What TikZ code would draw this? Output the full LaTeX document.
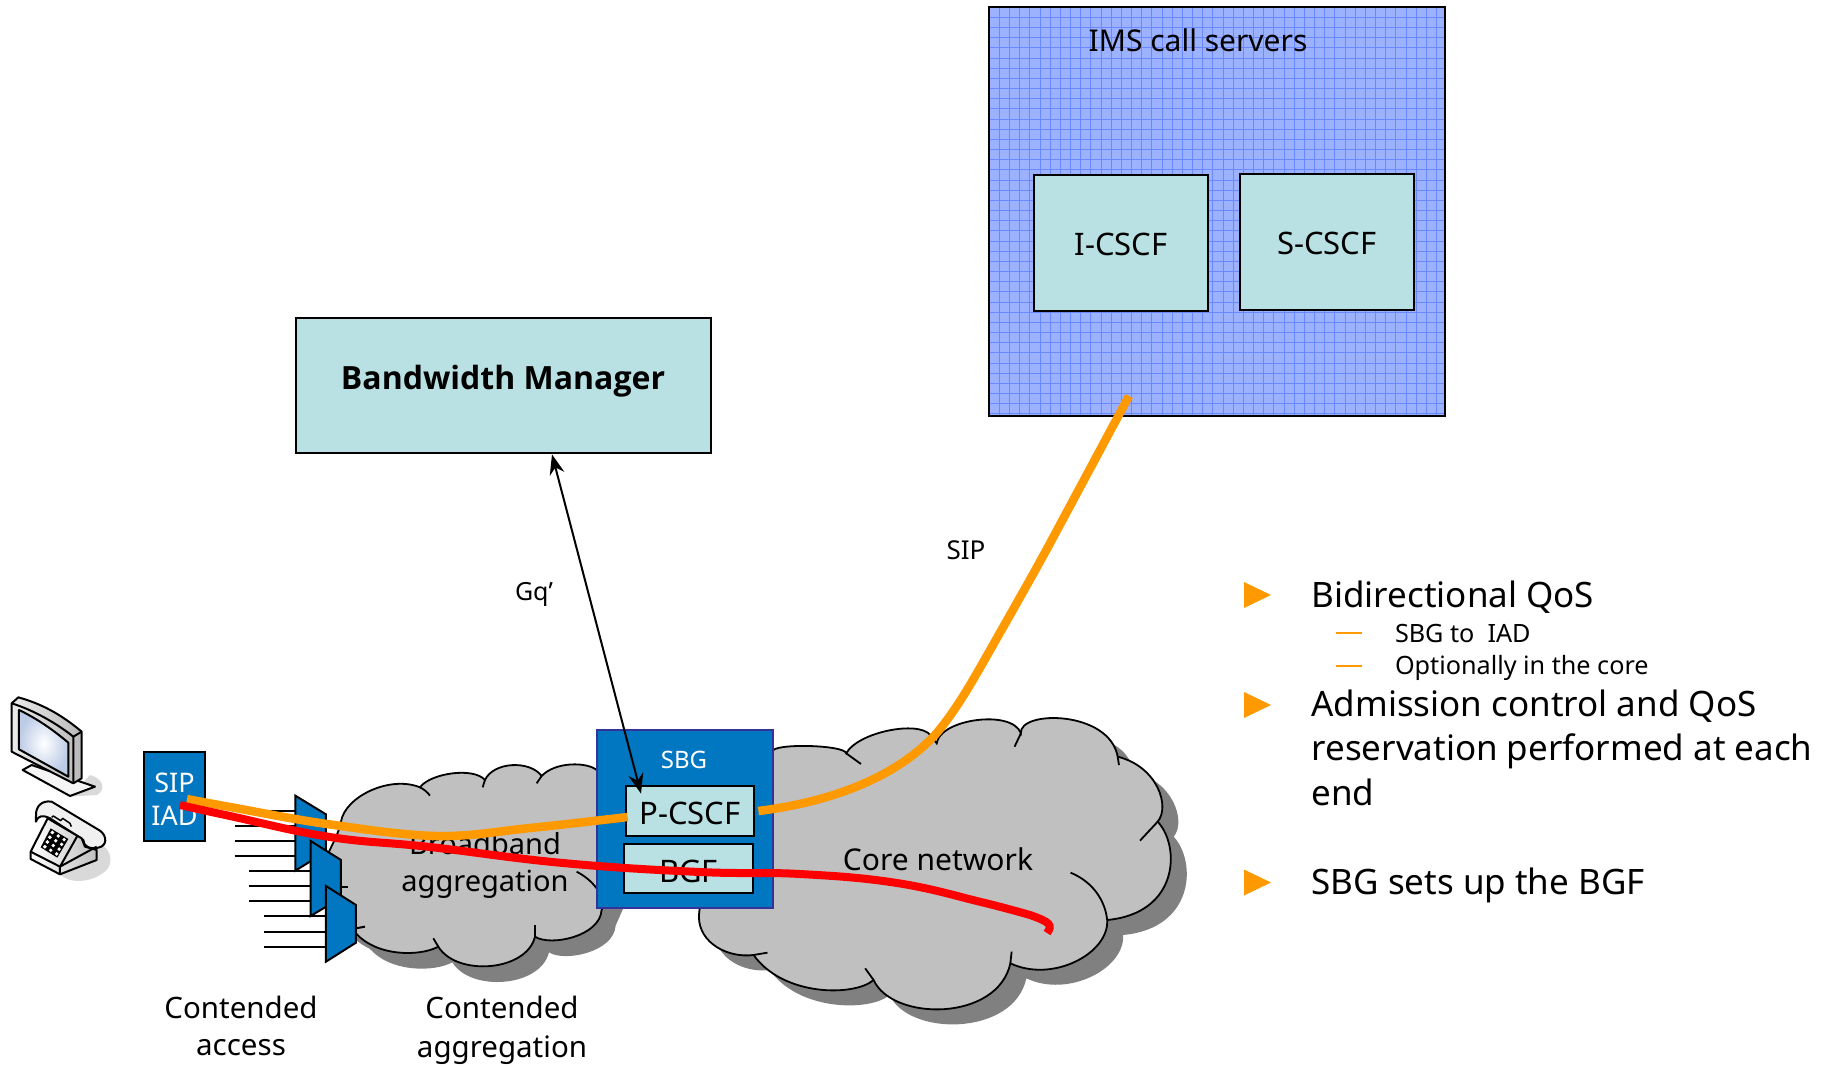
\documentclass[tikz,border=0pt]{standalone}
\usepackage{fontspec}
\setmainfont{Noto Sans}
\newfontfamily\bmfont{Open Sans}
\usetikzlibrary{arrows.meta,calc}
\definecolor{teal1}{HTML}{B9E0E3}
\definecolor{blue1}{HTML}{0277C1}
\definecolor{sbgedge}{HTML}{333399}
\definecolor{cloudc}{HTML}{C0C0C0}
\definecolor{shadowc}{HTML}{808080}
\definecolor{orng}{HTML}{FF9900}
\definecolor{imsfill}{HTML}{9CB2FF}
\definecolor{imsgrid}{HTML}{6A88FF}
\definecolor{screenc}{HTML}{BCCBE6}
\newcommand\fsz[2]{\fontsize{#1}{#2}\selectfont}
\newcommand\corepath{(505,155) .. controls (502,129) and (677,134) .. (680,160)
 .. controls (707,97) and (850,60) .. (880,105)
 -- (895,130) .. controls (902,57) and (1075,27) .. (1095,100)
 .. controls (1090,30) and (1305,30) .. (1325,170)
 .. controls (1420,200) and (1450,320) .. (1420,365)
 .. controls (1475,440) and (1470,640) .. (1300,660)
 .. controls (1305,760) and (1170,850) .. (1070,790)
 .. controls (1040,965) and (790,965) .. (745,840)
 .. controls (700,890) and (530,890) .. (460,765)
 .. controls (400,775) and (330,730) .. (330,650)
 .. controls (330,600) and (400,155) .. (505,155) -- cycle}
\newcommand\aggpath{(333,215) .. controls (345,140) and (480,75) .. (570,112)
 .. controls (600,70) and (730,50) .. (765,90)
 .. controls (790,35) and (900,30) .. (935,78)
 .. controls (975,35) and (1070,35) .. (1100,60)
 -- (1150,200) -- (1150,400)
 -- (1115,480) .. controls (1110,560) and (960,590) .. (915,560)
 .. controls (890,665) and (680,680) .. (625,590)
 .. controls (570,620) and (440,620) .. (378,550)
 .. controls (320,520) and (270,470) .. (270,400)
 .. controls (270,330) and (320,280) .. (333,215) -- cycle}
\tikzset{
 tealbox/.style={draw=black,line width=2.8pt,fill=teal1,inner sep=0pt,minimum width=#1},
 cloudline/.style={draw=black,line width=1.8pt},
 muxshape/.style={draw=black,line width=2pt,fill=blue1},
 bull/.style={anchor=base west,inner sep=0pt,text=black},
 tri/.style={fill=orng,draw=none},
 flowo/.style={orng,line width=8.5pt},
 flowr/.style={red,line width=8pt},
 lbl/.style={inner sep=0pt,align=center,text=black},
}
\begin{document}
\begin{tikzpicture}[x=1pt,y=-1pt,line width=2pt]
\useasboundingbox (0,0) rectangle (1825,1066);
% aggregation cloud
\begin{scope}[shift={(230,750)},x=0.3333pt,y=-0.3333pt]
 \fill[shadowc,shift={(42,47)}] \aggpath;
 \path[fill=cloudc,cloudline] \aggpath;
 \draw[cloudline] (570,112) .. controls (582,118) and (592,126) .. (600,137);
 \draw[cloudline] (765,90) -- (758,112);
 \draw[cloudline] (935,78) -- (920,100);
 \draw[cloudline] (915,560) -- (915,525);
 \draw[cloudline] (625,590) -- (610,565);
 \draw[cloudline] (1040,365) .. controls (1065,378) and (1085,395) .. (1100,415);
\end{scope}
% core cloud
\begin{scope}[shift={(560,700)},x=0.4209pt,y=-0.3333pt]
 \fill[shadowc,shift={(38,45)}] \corepath;
 \path[fill=cloudc,cloudline] \corepath;
 \draw[cloudline] (680,160) -- (715,192);
 \draw[cloudline] (1095,100) -- (1080,140);
 \draw[cloudline] (1325,170) -- (1328,195);
 \draw[cloudline] (1420,365) -- (1378,422);
 \draw[cloudline] (1300,660) .. controls (1295,600) and (1265,545) .. (1213,518);
 \draw[cloudline] (1070,790) -- (1073,755);
 \draw[cloudline] (745,840) -- (725,805);
 \draw[cloudline] (460,765) -- (493,758);
\end{scope}
% muxes
\begin{scope}[shift={(230,750)},x=0.3333pt,y=-0.3333pt]
 \foreach \yy in {183,228,272,318} \draw (14,\yy) -- (196,\yy);
 \foreach \yy in {318,363,408,453} \draw (58,\yy) -- (242,\yy);
 \foreach \yy in {453,498,545,590} \draw (103,\yy) -- (288,\yy);
 \draw (333,410) -- (353,410);
 \draw (378,535) -- (405,530);
 \path[muxshape] (196,137) -- (288,193) -- (288,305) -- (196,362) -- cycle;
 \path[muxshape] (242,273) -- (333,330) -- (333,443) -- (242,498) -- cycle;
 \path[muxshape] (288,408) -- (378,465) -- (378,578) -- (288,635) -- cycle;
\end{scope}
% IMS
\node[draw=black,line width=2.8pt,fill=imsfill,inner sep=0pt,minimum width=456pt,minimum height=409pt] (ims) at (1217,211.5) {};
\begin{scope}
 \clip (989,7) rectangle (1445,416);
 \foreach \i in {0,...,44} \draw[imsgrid,line width=0.9pt] (999.3+10.17*\i,7) -- (999.3+10.17*\i,416);
 \foreach \i in {0,...,40} \draw[imsgrid,line width=0.9pt] (989,17.3+10.17*\i) -- (1445,17.3+10.17*\i);
\end{scope}
\draw[line width=2.8pt] (989,7) rectangle (1445,416);
\node[lbl] (imst) at (1198,40) {\fsz{30}{36}IMS call servers};
\node[tealbox=174pt,minimum height=136pt,font=\fsz{31}{37}] (icscf) at (1121,243) {\rule{0pt}{25pt}I-CSCF};
\node[tealbox=174pt,minimum height=136pt,font=\fsz{31}{37}] (scscf) at (1327,242) {\rule{0pt}{25pt}S-CSCF};
% bandwidth manager
\node[tealbox=415pt,minimum height=135pt] (bm) at (503.5,385.5) {};
\node[lbl,font=\fsz{32}{38}\bmfont\bfseries] (bmt) at (503,381.5) {Bandwidth Manager};
% SBG
\node[draw=sbgedge,line width=2.2pt,fill=blue1,inner sep=0pt,minimum width=176pt,minimum height=178pt] (sbg) at (685,819) {};
\node[lbl,text=white] (sbgt) at (684,760) {\fsz{24}{29}SBG};
\node[tealbox=128pt,minimum height=50pt,font=\fsz{31}{37}] (pcscf) at (690,811) {\rule{0pt}{27pt}P-CSCF};
\node[tealbox=129pt,minimum height=49pt,font=\fsz{31}{37}] (bgf) at (688.5,868.5) {\rule{0pt}{29pt}BGF};
% IAD
\node[draw=black,line width=2pt,fill=blue1,inner sep=0pt,minimum width=61pt,minimum height=89pt,text=white,align=center,font=\fsz{27}{33}] (iad) at (174.5,796.5) {\rule{0pt}{24pt}SIP\\IAD};
% cloud labels
\node[lbl,font=\fsz{29}{37}] (aggt) at (485,865) {Broadband\\aggregation};
\node[lbl,font=\fsz{30}{36}] (coret) at (938,859) {Core network};
\node[lbl,font=\fsz{29.5}{37}] (cat) at (241,1025.5) {Contended\\access};
\node[lbl,font=\fsz{29.5}{39}] (cgt) at (502,1030.5) {Contended\\aggregation};
\node[lbl,font=\fsz{26}{31}] (sipt) at (966,550) {SIP};
\node[lbl,font=\fsz{25}{30}] (gqt) at (534,594) {Gq'};
% connectors
\coordinate (gqa) at ([xshift=48.5pt]bm.south);
\coordinate (gqb) at ([shift={(-49,9)}]pcscf.north);
\draw[{Stealth[length=20pt,width=15pt]}-{Stealth[length=20pt,width=15pt]},line width=2pt] (gqa) -- (gqb);
\coordinate (oa) at (187,799);
\coordinate (pw) at ([shift={(3,6)}]pcscf.west);
\coordinate (pe) at ([xshift=3pt]pcscf.east);
\coordinate (imsb) at (1129,396);
\draw[flowo] plot[smooth,tension=0.6] coordinates {(oa) (230,807) (327,824) (437,836) (530,828) (pw)};
\draw[flowo] (pe) .. controls (830,802) and (895,778) .. (935,735) .. controls (955,712) and (972,682) .. (989,652) .. controls (1010,615) and (1030,580) .. (1048,547) -- (imsb);
\coordinate (ra) at (180,805);
\coordinate (rb) at (1047,933);
\draw[flowr] plot[smooth,tension=0.7] coordinates {(ra) (230,816) (330,837) (430,847) (563,863) (700,872) (800,874) (897,883) (981,902) (1030,915)} .. controls (1050,922) and (1053,925) .. (rb);
% right text
\foreach \nm/\yy in {ta/595,tb/705,tc/882.5}
 \fill[tri] (1244,\yy-13) -- (1271,\yy) -- (1244,\yy+13) -- cycle;
\draw[orng,line width=1.6pt] (1335.5,633) -- (1362,633);
\draw[orng,line width=1.6pt] (1335.5,666) -- (1362,666);
\node[bull] (b1) at (1310.5,607.5) {\fsz{35}{42}Bidirectional QoS};
\node[bull] (b1a) at (1394,642) {\fsz{25.2}{31}SBG to\ \ IAD};
\node[bull] (b1b) at (1394,674) {\fsz{25.2}{31}Optionally in the core};
\node[bull] (b2) at (1310.5,716.5) {\fsz{35}{42}Admission control and QoS};
\node[bull] (b2a) at (1310.5,760.5) {\fsz{35}{42}reservation performed at each};
\node[bull] (b2b) at (1310.5,805.5) {\fsz{35}{42}end};
\node[bull] (b3) at (1310.5,894.5) {\fsz{35}{42}SBG sets up the BGF};
% monitor and phone
\begin{scope}[shift={(0,690)},x=0.3333pt,y=-0.3333pt,line width=2pt,line join=round]
 \fill[gray!30] (270,255) .. controls (310,265) and (320,300) .. (290,315) -- (210,320) -- cycle;
 \filldraw[fill=gray!8] (68,240) -- (95,225) -- (285,290) -- (210,318) -- cycle;
 \shadedraw[left color=gray!15,right color=gray!55] (35,40) -- (55,22) .. controls (120,40) and (180,70) .. (245,125) -- (245,265) -- (220,280) -- (35,185) -- cycle;
 \draw (35,40) .. controls (100,60) and (170,100) .. (220,140) -- (220,280);
 \draw (220,140) -- (245,125);
 \shadedraw[inner color=white,outer color=screenc] (57,60) .. controls (110,85) and (160,120) .. (205,158) -- (205,260) -- (57,178) -- cycle;
 % phone
 \fill[gray!30] (260,440) .. controls (320,460) and (350,500) .. (320,540) .. controls (290,570) and (220,590) .. (180,553) -- cycle;
 \filldraw[fill=gray!12] (108,378) .. controls (106,350) and (125,330) .. (155,335) -- (300,422) .. controls (322,438) and (322,468) .. (295,473) .. controls (270,478) and (250,470) .. (250,450) -- (150,385) .. controls (130,375) and (115,375) .. (108,395) -- cycle;
 \shadedraw[left color=white,right color=gray!50] (92,485) -- (143,385) -- (245,445) -- (255,470) -- (290,480) -- (290,510) -- (180,553) -- (92,507) -- cycle;
 \draw (92,485) -- (180,530) -- (180,553);
 \draw (180,530) -- (290,470);
 \draw (180,530) -- (232,438);
 \draw[line width=1.5pt] (155,382) -- (160,378) -- (182,392) -- (188,385) -- (210,400) -- (214,410);
 \fill[black] (122,472) -- (152,415) -- (205,447) -- (172,503) -- cycle;
 \foreach \i in {0,...,3} \foreach \j in {0,...,2}
  \fill[white] ({152+(\i+0.5)*(-7.5)+(\j+0.5)*17.7},{415+(\i+0.5)*14.25+(\j+0.5)*10.7}) circle[radius=1.9pt];
\end{scope}
\end{tikzpicture}
\end{document}
